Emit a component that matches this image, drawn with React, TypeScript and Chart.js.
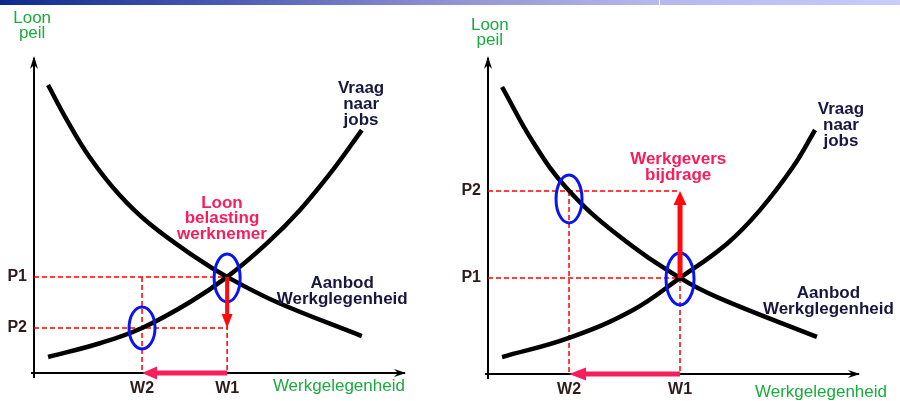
import React, { useEffect, useRef } from "react";
import { Chart, registerables } from "chart.js";

Chart.register(...registerables);

// ---------- Left panel data (Loonbelasting werknemer) ----------
const leftDemandX = [0.38, 0.89, 1.5, 2.3, 3.14, 4.41, 5.22, 6.57, 8.86];
const leftDemandY = [9.2, 8.08, 6.9, 5.7, 4.75, 3.66, 3.07, 2.26, 1.18];
const leftSupplyX = [0.38, 1.78, 2.92, 4.22, 5.22, 6.3, 7.19, 8.08, 8.86];
const leftSupplyY = [0.51, 0.95, 1.44, 2.27, 3.07, 4.15, 5.21, 6.49, 7.76];
const leftW = [2.92, 5.22];
const leftWLabels = ["W2", "W1"];
const leftP = [1.44, 3.07];
const leftPLabels = ["P2", "P1"];

// ---------- Right panel data (Werkgeversbijdrage) ----------
const rightDemandX = [0.38, 1.22, 2.14, 3.49, 5.19, 6.19, 8.89];
const rightDemandY = [9.14, 7.38, 5.9, 4.44, 3.06, 2.45, 1.18];
const rightSupplyX = [0.38, 2.19, 3.92, 5.19, 6.46, 7.35, 8.24, 8.84];
const rightSupplyY = [0.54, 1.15, 2.04, 3.06, 4.15, 5.22, 6.59, 7.77];
const rightW = [2.19, 5.19];
const rightWLabels = ["W2", "W1"];
const rightP = [3.06, 5.83];
const rightPLabels = ["P1", "P2"];

// ---------- Texts ----------
const yTitle = ["Loon", "peil"];
const xTitle = ["Werkgelegenheid"];
const demandLabel = ["Vraag", "naar", "jobs"];
const supplyLabel = ["Aanbod", "Werkglegenheid"];
const leftNote = ["Loon", "belasting", "werknemer"];
const rightNote = ["Werkgevers", "bijdrage"];

const FAMILY = '"Liberation Sans", Arial, sans-serif';
const GREEN = "#1aab3e";
const NAVY = "#17173f";
const PINK = "#f81d5c";
const RED = "#ff0a0a";
const TICK = "#2e1c1a";
const BLUE = "#0a14ee";

type Txt = { lines: string[]; x: number; y: number; color: string; font: string; lh: number };
type Arrow = { from: [number, number]; to: [number, number]; color: string; width: number; headLen: number; headW: number };
type Ell = { x: number; y: number; rx: number; ry: number; dy?: number };

const pts = (xs: number[], ys: number[]) => xs.map((x, i) => ({ x, y: ys[i] }));

function drawArrow(ctx: CanvasRenderingContext2D, x1: number, y1: number, x2: number, y2: number, a: Arrow) {
  const ang = Math.atan2(y2 - y1, x2 - x1);
  const bx = x2 - a.headLen * Math.cos(ang);
  const by = y2 - a.headLen * Math.sin(ang);
  ctx.save();
  ctx.strokeStyle = a.color;
  ctx.fillStyle = a.color;
  ctx.lineWidth = a.width;
  ctx.lineCap = "butt";
  ctx.beginPath();
  ctx.moveTo(x1, y1);
  ctx.lineTo(bx, by);
  ctx.stroke();
  ctx.beginPath();
  ctx.moveTo(x2, y2);
  ctx.lineTo(bx + a.headW * Math.sin(ang), by - a.headW * Math.cos(ang));
  ctx.lineTo(bx - a.headW * Math.sin(ang), by + a.headW * Math.cos(ang));
  ctx.closePath();
  ctx.fill();
  ctx.restore();
}

function makeAnnotate(ellipses: Ell[], arrows: Arrow[], texts: Txt[]) {
  return {
    id: "annotate",
    afterDatasetsDraw(chart: any) {
      const { ctx, scales } = chart;
      const xs = scales.x;
      const ys = scales.y;
      const X = (v: number) => xs.getPixelForValue(v);
      const Y = (v: number) => ys.getPixelForValue(v);
      // axis arrowheads and small extensions
      ctx.save();
      ctx.strokeStyle = "#000";
      ctx.fillStyle = "#000";
      ctx.lineWidth = 2;
      const ox = X(0), oy = Y(0), top = Y(10), right = X(10);
      ctx.beginPath();
      ctx.moveTo(ox, oy);
      ctx.lineTo(ox, oy + 5);
      ctx.moveTo(ox, oy);
      ctx.lineTo(ox - 3, oy);
      ctx.moveTo(ox, top);
      ctx.lineTo(ox, top - 2);
      ctx.stroke();
      ctx.beginPath();
      ctx.moveTo(ox, top - 4);
      ctx.lineTo(ox - 4, top + 9);
      ctx.lineTo(ox, top + 5);
      ctx.lineTo(ox + 4, top + 9);
      ctx.closePath();
      ctx.fill();
      ctx.beginPath();
      ctx.moveTo(right + 2, oy);
      ctx.lineTo(right - 10, oy - 4);
      ctx.lineTo(right - 6, oy);
      ctx.lineTo(right - 10, oy + 4);
      ctx.closePath();
      ctx.fill();
      ctx.restore();

      // ellipses
      ellipses.forEach((e) => {
        ctx.save();
        ctx.beginPath();
        ctx.ellipse(X(e.x), Y(e.y) + (e.dy || 0), e.rx, e.ry, 0, 0, Math.PI * 2);
        ctx.strokeStyle = BLUE;
        ctx.lineWidth = 3;
        ctx.stroke();
        ctx.restore();
      });

      // arrows
      arrows.forEach((a) => drawArrow(ctx, X(a.from[0]), Y(a.from[1]), X(a.to[0]), Y(a.to[1]), a));

      // texts
      texts.forEach((t) => {
        ctx.save();
        ctx.font = t.font;
        ctx.fillStyle = t.color;
        ctx.textAlign = "center";
        ctx.textBaseline = "middle";
        t.lines.forEach((line, i) => ctx.fillText(line, X(t.x), Y(t.y) + i * t.lh));
        ctx.restore();
      });
    },
  };
}

function dashedSet(a: [number, number], b: [number, number]) {
  return {
    data: [{ x: a[0], y: a[1] }, { x: b[0], y: b[1] }],
    borderColor: "#ff0000",
    borderWidth: 1.5,
    borderDash: [5, 3],
    pointRadius: 0,
    tension: 0,
    order: 3,
  };
}

function curveSet(xs: number[], ys: number[]) {
  return {
    data: pts(xs, ys),
    borderColor: "#000",
    borderWidth: 4.5,
    borderCapStyle: "butt",
    pointRadius: 0,
    tension: 0.4,
    order: 2,
  };
}

function buildConfig(opts: {
  demandX: number[]; demandY: number[]; supplyX: number[]; supplyY: number[];
  W: number[]; wLabels: string[]; P: number[]; pLabels: string[];
  dashed: [number, number][][]; arrows: Arrow[]; ellipses: Ell[]; texts: Txt[];
  padRight: number; yWidth: number; xHeight: number;
}) {
  const tickFont = { family: FAMILY, size: 16, weight: "bold" as const };
  return {
    type: "line" as const,
    data: {
      datasets: [
        curveSet(opts.demandX, opts.demandY),
        curveSet(opts.supplyX, opts.supplyY),
        ...opts.dashed.map((s) => dashedSet(s[0], s[1])),
      ],
    },
    options: {
      animation: false as const,
      responsive: false,
      devicePixelRatio: 1,
      layout: { padding: { top: 60, right: opts.padRight, left: 0, bottom: 0 } },
      plugins: { legend: { display: false }, tooltip: { enabled: false }, title: { display: false } },
      scales: {
        x: {
          type: "linear" as const,
          min: 0,
          max: 10,
          grid: { display: false, drawTicks: false },
          border: { display: true, color: "#000", width: 2 },
          afterBuildTicks: (ax: any) => { ax.ticks = opts.W.map((v) => ({ value: v })); },
          afterFit: (ax: any) => { ax.height = opts.xHeight; },
          ticks: {
            autoSkip: false, maxRotation: 0, padding: 6, color: TICK, font: tickFont,
            callback: (_v: any, i: number) => opts.wLabels[i],
          },
        },
        y: {
          type: "linear" as const,
          min: 0,
          max: 10,
          grid: { display: false, drawTicks: false },
          border: { display: true, color: "#000", width: 2 },
          afterBuildTicks: (ax: any) => { ax.ticks = opts.P.map((v) => ({ value: v })); },
          afterFit: (ax: any) => { ax.width = opts.yWidth; },
          ticks: {
            autoSkip: false, padding: 7, color: TICK, font: tickFont,
            callback: (_v: any, i: number) => opts.pLabels[i],
          },
        },
      },
    },
    plugins: [makeAnnotate(opts.ellipses, opts.arrows, opts.texts)],
  };
}

const B17 = `bold 17px ${FAMILY}`;
const R17 = `17px ${FAMILY}`;

function leftConfig() {
  const [W2, W1] = leftW;
  const [P2, P1] = leftP;
  return buildConfig({
    demandX: leftDemandX, demandY: leftDemandY, supplyX: leftSupplyX, supplyY: leftSupplyY,
    W: leftW, wLabels: leftWLabels, P: leftP, pLabels: leftPLabels,
    dashed: [
      [[0, P1], [W1, P1]],
      [[0, P2], [W1, P2]],
      [[W2, P1], [W2, 0]],
      [[W1, P1], [W1, 0]],
    ],
    arrows: [
      { from: [W1, P1], to: [W1, P2], color: RED, width: 4, headLen: 14, headW: 5.5 },
      { from: [W1, 0], to: [W2, 0], color: PINK, width: 5, headLen: 15, headW: 6.5 },
    ],
    ellipses: [
      { x: W1, y: P1, rx: 13, ry: 24, dy: 1 },
      { x: W2, y: P2, rx: 13, ry: 21 },
    ],
    texts: [
      { lines: yTitle, x: -0.05, y: 11.34, color: GREEN, font: R17, lh: 15 },
      { lines: demandLabel, x: 8.84, y: 9.11, color: NAVY, font: B17, lh: 16 },
      { lines: leftNote, x: 5.08, y: 5.43, color: PINK, font: B17, lh: 15.5 },
      { lines: supplyLabel, x: 8.33, y: 2.88, color: NAVY, font: B17, lh: 16 },
      { lines: xTitle, x: 8.24, y: -0.42, color: GREEN, font: R17, lh: 16 },
    ],
    padRight: 46, yWidth: 34, xHeight: 28,
  });
}

function rightConfig() {
  const [W2, W1] = rightW;
  const [P1, P2] = rightP;
  return buildConfig({
    demandX: rightDemandX, demandY: rightDemandY, supplyX: rightSupplyX, supplyY: rightSupplyY,
    W: rightW, wLabels: rightWLabels, P: rightP, pLabels: rightPLabels,
    dashed: [
      [[0, P2], [W1, P2]],
      [[0, P1], [W1, P1]],
      [[W2, P2], [W2, 0]],
      [[W1, P1], [W1, 0]],
    ],
    arrows: [
      { from: [W1, P1], to: [W1, P2], color: RED, width: 5, headLen: 14, headW: 6.5 },
      { from: [W1, 0], to: [W2, 0], color: PINK, width: 5, headLen: 17, headW: 6.5 },
    ],
    ellipses: [
      { x: W1, y: P1, rx: 14, ry: 26, dy: 1 },
      { x: W2, y: P2, rx: 13, ry: 24, dy: 8 },
    ],
    texts: [
      { lines: yTitle, x: 0.05, y: 11.11, color: GREEN, font: R17, lh: 15 },
      { lines: demandLabel, x: 9.54, y: 8.44, color: NAVY, font: B17, lh: 16 },
      { lines: rightNote, x: 5.14, y: 6.85, color: PINK, font: B17, lh: 16 },
      { lines: supplyLabel, x: 9.2, y: 2.58, color: NAVY, font: B17, lh: 16 },
      { lines: xTitle, x: 9.0, y: -0.57, color: GREEN, font: R17, lh: 16 },
    ],
    padRight: 42, yWidth: 38, xHeight: 27,
  });
}

export default function App() {
  const leftRef = useRef<HTMLCanvasElement | null>(null);
  const rightRef = useRef<HTMLCanvasElement | null>(null);

  useEffect(() => {
    Chart.defaults.font.family = FAMILY;
    const c1 = new Chart(leftRef.current as HTMLCanvasElement, leftConfig() as any);
    const c2 = new Chart(rightRef.current as HTMLCanvasElement, rightConfig() as any);
    return () => {
      c1.destroy();
      c2.destroy();
    };
  }, []);

  return (
    <div style={{ position: "fixed", left: 0, top: 0, width: 900, height: 401, background: "#fff", overflow: "hidden" }}>
      <canvas ref={leftRef} width={450} height={401} style={{ position: "absolute", left: 0, top: 0, width: 450, height: 401 }} />
      <canvas ref={rightRef} width={450} height={401} style={{ position: "absolute", left: 450, top: 0, width: 450, height: 401 }} />
      <div
        style={{
          position: "absolute", left: 0, top: 0, width: 900, height: 5,
          background: "linear-gradient(to right, #0c2a8e 0%, #4455ad 22%, #9092d4 50%, #b6b8ee 73%, #c9cbfa 100%)",
        }}
      />
      <div style={{ position: "absolute", left: 659, top: 0, width: 1, height: 5, background: "#fff" }} />
    </div>
  );
}
